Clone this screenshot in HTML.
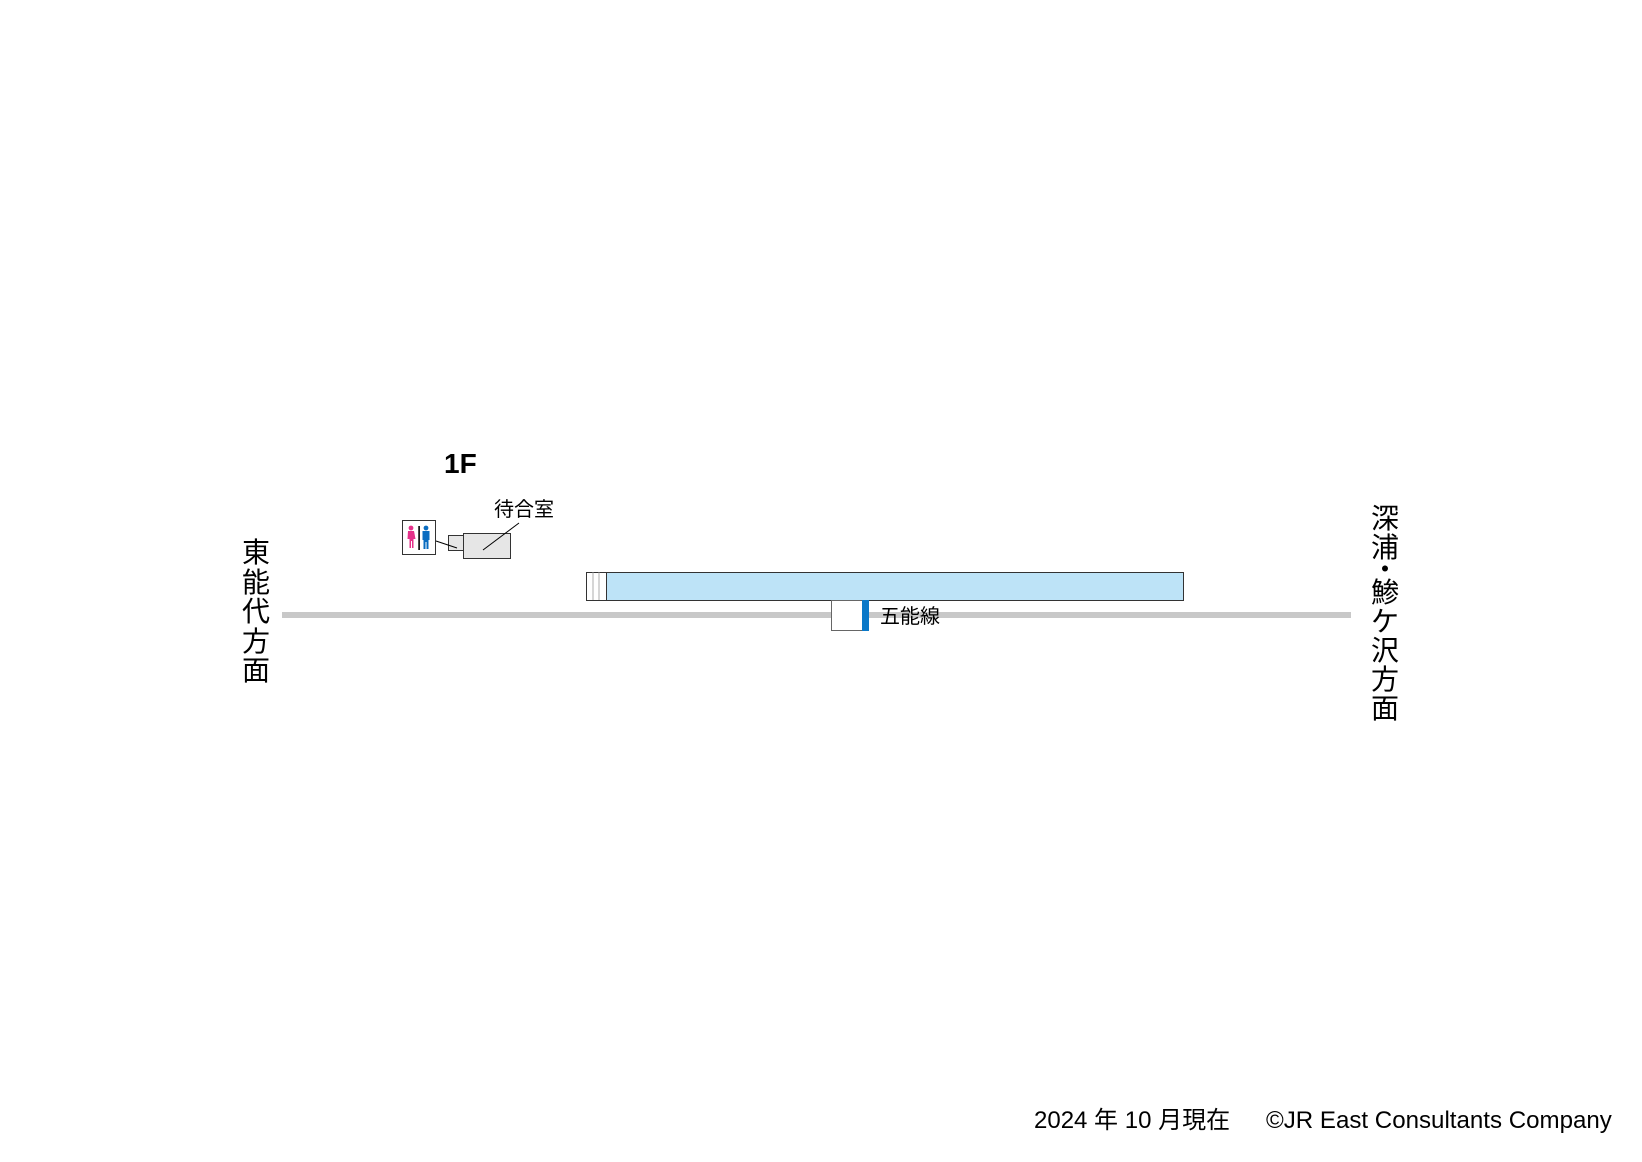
<!DOCTYPE html>
<html><head><meta charset="utf-8"><style>
body{margin:0;width:1642px;height:1162px;background:#fff;position:relative;overflow:hidden;font-family:"Liberation Sans","Noto Sans CJK JP",sans-serif;}
.a{position:absolute;}
.v{position:absolute;color:#000;text-align:center;}
</style></head><body>
<svg class="a" style="left:0;top:0" width="1642" height="1162">
  <rect x="282" y="612" width="1069" height="6" fill="#c8c8c8"/>
  <rect x="606.5" y="572.5" width="577" height="28" fill="#bde3f7" stroke="#333" stroke-width="1"/>
  <rect x="586.5" y="572.5" width="20" height="28" fill="#fff" stroke="#333" stroke-width="1"/>
  <line x1="593" y1="572" x2="593" y2="600" stroke="#999" stroke-width="0.8"/>
  <line x1="599" y1="572" x2="599" y2="600" stroke="#999" stroke-width="0.8"/>
  <rect x="831.5" y="600.5" width="31" height="30" fill="#fff" stroke="#666"/>
  <rect x="862" y="600" width="7" height="31" fill="#0a78c8"/>
  <rect x="448.5" y="535.5" width="15" height="15" fill="#e6e6e6" stroke="#333"/>
  <rect x="463.5" y="533.5" width="47" height="25" fill="#e6e6e6" stroke="#333"/>
  <line x1="436" y1="541" x2="457" y2="548" stroke="#000"/>
  <line x1="519" y1="523" x2="483" y2="550" stroke="#000"/>
  <rect x="402.5" y="520.5" width="33" height="34" fill="#fff" stroke="#333"/>
  <g fill="#e4318a"><circle cx="411" cy="528" r="2.4"/><path d="M408 531h6l1.5 8h-2v9h-1.5v-7h-1v7h-1.5v-9h-2z"/></g>
  <rect x="418.3" y="526" width="1.6" height="24" fill="#000"/>
  <g fill="#0a6cc0"><circle cx="426" cy="528" r="2.4"/><path d="M422.5 531h7v9h-1v9h-2v-7h-1v7h-2v-9h-1z"/></g>
</svg>
<div class="a" style="left:444px;top:448px;font-size:28px;font-weight:bold;">1F</div>
<div class="a" style="left:494px;top:493px;font-size:20px;">待合室</div>
<div class="a" style="left:880px;top:600px;font-size:20px;">五能線</div>
<div class="v" style="left:240px;top:538px;width:32px;font-size:28px;line-height:29.5px;">東<br>能<br>代<br>方<br>面</div>
<div class="v" style="left:1369px;top:504px;width:32px;font-size:28px;line-height:29px;">深<br>浦<br><span style="display:block;height:16px;line-height:16px;">・</span>鯵<br>ケ<br>沢<br>方<br>面</div>
<div class="a" style="left:1034px;top:1100px;font-size:24px;white-space:nowrap;">2024 年 10 月現在</div>
<div class="a" style="left:1266px;top:1107px;font-size:24.1px;white-space:nowrap;">©JR East Consultants Company</div>
</body></html>
